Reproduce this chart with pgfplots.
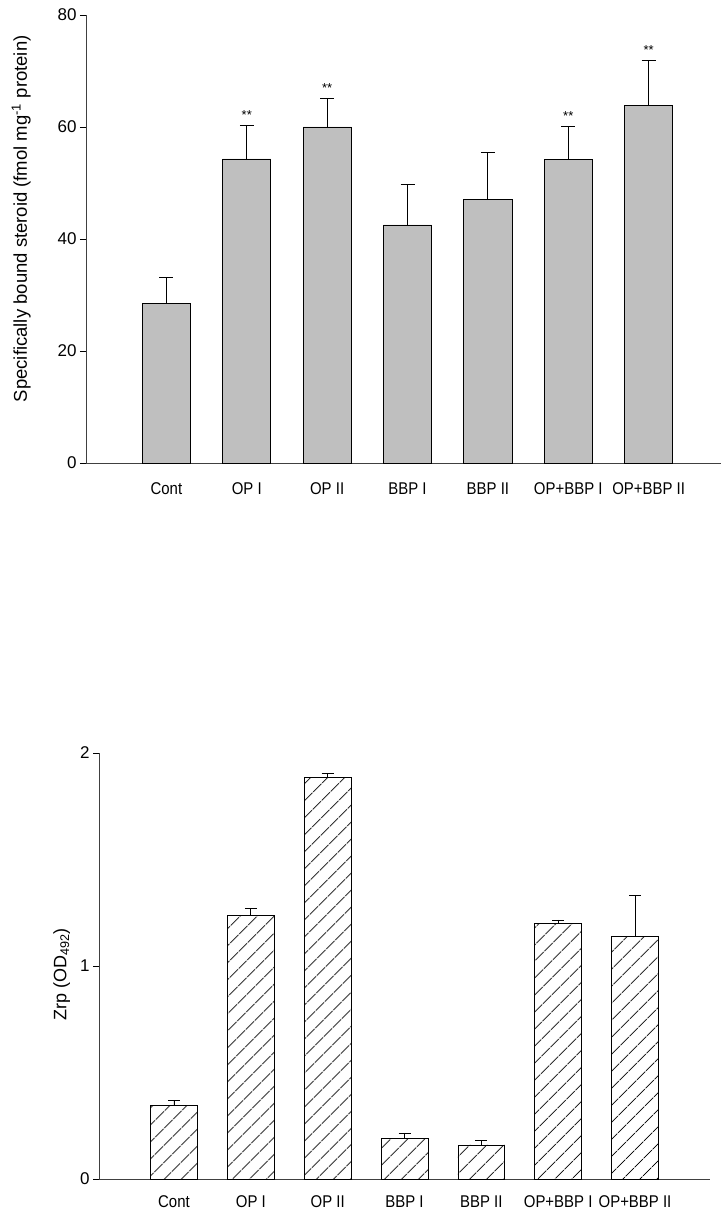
\documentclass[border=0pt]{standalone}
\usepackage{graphicx}
\usepackage{pgfplots}
\pgfplotsset{compat=1.18}
\usepackage{fontspec}
\setmainfont{Liberation Sans}
\usetikzlibrary{patterns.meta}

\pgfplotstableread{
x y err
0 28.5 4.7
1 54.3 5.9
2 60.0 5.1
3 42.5 7.3
4 47.1 8.3
5 54.2 5.9
6 63.8 8.0
}\topdata

\pgfplotstableread{
x y err
0 0.344 0.025
1 1.238 0.033
2 1.887 0.015
3 0.191 0.025
4 0.160 0.020
5 1.198 0.018
6 1.140 0.190
}\botdata

\newcommand{\nl}[1]{\scalebox{0.88}[1]{#1}}

\begin{document}
\begin{tikzpicture}
\useasboundingbox (0,0) rectangle (721pt,1210pt);
\pgfplotsset{
 common/.style={
  scale only axis, anchor=south west,
  axis x line*=bottom, axis y line*=left,
  axis line style={black!75, line width=0.9pt},
  tick align=outside, ytick pos=left,
  major tick length=6pt,
  ytick style={black, line width=0.9pt},
  xtick style={draw=none},
  xtick={0,...,6},
  xticklabels={\nl{Cont}, \nl{OP I}, \nl{OP II}, \nl{BBP I}, \nl{BBP II}, \nl{OP+BBP I}, \nl{OP+BBP II}},
  tick label style={font=\fontsize{17}{20}\selectfont},
  /pgf/number format/assume math mode=true,
  enlargelimits=false,
  clip=false,
 }
}
% top chart
\begin{axis}[common,
  at={(86pt,747pt)}, width=635pt, height=448pt,
  xmin=-1.0, xmax=6.9, ymin=0, ymax=80,
  ytick={0,20,40,60,80},
  xticklabel style={yshift=-10pt},
  ylabel={Specifically bound steroid (fmol mg\textsuperscript{-1} protein)},
  ylabel style={at={(axis description cs:-0.102,0.545)}, anchor=center, font=\fontsize{18.5}{22}\selectfont},
]
\addplot[ybar, bar width=0.6, fill=black!25, draw=black, line width=0.8pt,
  error bars/.cd, y dir=plus, y explicit, error mark=|,
  error mark options={black, line width=0.9pt, mark size=7pt},
  error bar style={black, line width=0.9pt}]
  table[x=x, y=y, y error=err] {\topdata};
\addplot[draw=none, mark=none, nodes near coords={**},
  nodes near coords style={anchor=base, yshift=6pt, inner sep=0pt, font=\fontsize{13}{13}\selectfont}]
  table {
x y
1 60.2
2 65.1
5 60.1
6 71.8
};
\end{axis}
% bottom chart
\begin{axis}[common,
  at={(99pt,31pt)}, width=611pt, height=426pt,
  xmin=-0.976, xmax=6.976, ymin=0, ymax=2,
  ytick={0,1,2},
  xticklabel style={yshift=-7pt},
  ylabel={Zrp (OD\textsubscript{492})},
  ylabel style={at={(axis description cs:-0.061,0.48)}, anchor=center, font=\fontsize{18}{22}\selectfont},
]
\addplot[ybar, bar width=0.61, draw=black, line width=0.8pt,
  pattern={Lines[angle=45, distance=13pt, line width=0.9pt]},
  error bars/.cd, y dir=plus, y explicit, error mark=|,
  error mark options={black, line width=0.9pt, mark size=6pt},
  error bar style={black, line width=0.9pt}]
  table[x=x, y=y, y error=err] {\botdata};
\end{axis}
\end{tikzpicture}
\end{document}
